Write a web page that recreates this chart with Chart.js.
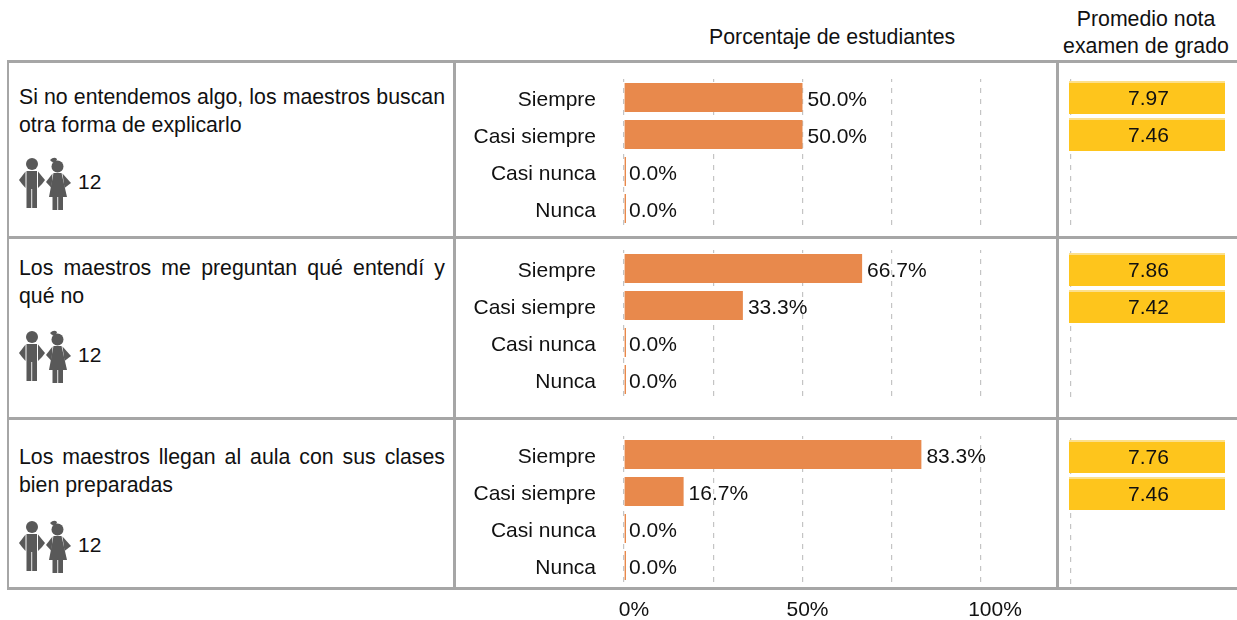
<!DOCTYPE html>
<html>
<head>
<meta charset="utf-8">
<script src="https://cdn.jsdelivr.net/npm/chart.js@4"></script>
<style>
  html, body { margin: 0; padding: 0; background: #fff; }
  body { position: relative; width: 1237px; height: 620px; overflow: hidden; font-family: "Liberation Sans", Arial, sans-serif; color: #111; }
  .abs { position: absolute; }
  .rule { position: absolute; background: #a6a6a6; }
  .head { position: absolute; font-size: 21.3px; line-height: 27px; text-align: center; white-space: nowrap; }
  .question { position: absolute; left: 19px; width: 426px; font-size: 21.3px; line-height: 27.5px; text-align: justify; }
  .count { position: absolute; left: 78px; font-size: 21px; line-height: 24px; }
  canvas { position: absolute; }
</style>
</head>
<body>

<svg width="0" height="0" style="position:absolute">
  <symbol id="kids" viewBox="0 0 54 54">
    <g fill="#595959">
      <circle cx="13" cy="7" r="6"/>
      <path d="M7.5 14 H18 V32 H7.5 Z"/>
      <path d="M6.5 14.5 L0 23 L3 27 L6.5 31 Z"/>
      <path d="M19 14.5 L26 23 L23 27 L19 31 Z"/>
      <rect x="7.5" y="32" width="4.8" height="19"/>
      <rect x="13.2" y="32" width="4.8" height="19"/>
      <circle cx="38.5" cy="9.5" r="6"/>
      <path d="M31 3 Q35 -1 38 2 L37 5 Q33 6 31 3 Z"/>
      <path d="M34.5 16 H42.5 L48 40 H30 Z"/>
      <path d="M33.5 16.5 L27 25 L32.5 31 Z"/>
      <path d="M43.5 16.5 L52 26 L45.5 31 Z"/>
      <rect x="33.5" y="40" width="4.8" height="13"/>
      <rect x="39.2" y="40" width="4.8" height="13"/>
    </g>
  </symbol>
</svg>

<div class="head" style="left:709px;top:24px;">Porcentaje de estudiantes</div>
<div class="head" style="left:1056px;width:180px;top:6px;">Promedio nota<br>examen de grado</div>

<div class="rule" style="left:7px;top:60px;width:1230px;height:3px;"></div>
<div class="rule" style="left:7px;top:236px;width:1230px;height:3px;"></div>
<div class="rule" style="left:7px;top:417px;width:1230px;height:3px;"></div>
<div class="rule" style="left:7px;top:587px;width:1230px;height:3px;"></div>
<div class="rule" style="left:7px;top:60px;width:2px;height:530px;"></div>
<div class="rule" style="left:453px;top:60px;width:3px;height:530px;"></div>
<div class="rule" style="left:1056px;top:60px;width:3px;height:530px;"></div>

<div id="rows"></div>

<script>
const categories = ["Siempre", "Casi siempre", "Casi nunca", "Nunca"];
const questions = [
  "Si no entendemos algo, los maestros buscan otra forma de explicarlo",
  "Los maestros me preguntan qué entendí y qué no",
  "Los maestros llegan al aula con sus clases bien preparadas"
];
const studentCounts = [12, 12, 12];

const pctPanel1 = [50.0, 50.0, 0.0, 0.0];
const pctPanel2 = [66.7, 33.3, 0.0, 0.0];
const pctPanel3 = [83.3, 16.7, 0.0, 0.0];

const scorePanel1 = [7.97, 7.46, null, null];
const scorePanel2 = [7.86, 7.42, null, null];
const scorePanel3 = [7.76, 7.46, null, null];

const axisLabels = ["0%", "50%", "100%"];
const axisValues = [0, 50, 100];

const ORANGE = "#E8894C";
const YELLOW = "#FEC51C";
const GRID = "#c4c4c4";
const FONT = "Liberation Sans";

// y position of each row block on the page
const layout = [
  { barTop: 79,  scoreTop: 79,  qTop: 84,  kidTop: 157, countTop: 170 },
  { barTop: 250, scoreTop: 251, qTop: 255, kidTop: 330, countTop: 343 },
  { barTop: 436, scoreTop: 438, qTop: 444, kidTop: 520, countTop: 533 }
];
const ROW_H = 148;

Chart.defaults.font.family = FONT;
Chart.defaults.animation = false;

function addCanvas(left, top, width, height) {
  const c = document.createElement("canvas");
  c.style.left = left + "px";
  c.style.top = top + "px";
  c.style.width = width + "px";
  c.style.height = height + "px";
  c.width = width;
  c.height = height;
  document.body.appendChild(c);
  return c;
}

// percentage text right after the end of each bar
const barValueLabels = {
  id: "barValueLabels",
  afterDatasetsDraw(chart) {
    const ctx = chart.ctx;
    const meta = chart.getDatasetMeta(0);
    const values = chart.data.datasets[0].data;
    ctx.save();
    ctx.font = "21px " + FONT;
    ctx.fillStyle = "#111";
    ctx.textAlign = "left";
    ctx.textBaseline = "middle";
    meta.data.forEach((bar, i) => {
      ctx.fillText(values[i].toFixed(1) + "%", chart.scales.x.getPixelForValue(values[i]) + 5, bar.y + 3);
    });
    ctx.restore();
  }
};

// bottom axis text, only on the last panel. shifted by hand like in the original
const labelShift = [10, 5, 14];
const bottomAxis = {
  id: "bottomAxis",
  afterDraw(chart) {
    const ctx = chart.ctx;
    ctx.save();
    ctx.font = "21px " + FONT;
    ctx.fillStyle = "#111";
    ctx.textAlign = "center";
    ctx.textBaseline = "middle";
    axisLabels.forEach((txt, i) => {
      ctx.fillText(txt, chart.scales.x.getPixelForValue(axisValues[i]) + labelShift[i], chart.chartArea.bottom + 26);
    });
    ctx.restore();
  }
};

const scoreValueLabels = {
  id: "scoreValueLabels",
  afterDatasetsDraw(chart) {
    const ctx = chart.ctx;
    const meta = chart.getDatasetMeta(0);
    const values = chart.data.datasets[0].data;
    const mid = (chart.chartArea.left + chart.chartArea.right) / 2 + 1.5;
    ctx.save();
    ctx.font = "21px " + FONT;
    ctx.fillStyle = "#111";
    ctx.textAlign = "center";
    ctx.textBaseline = "middle";
    meta.data.forEach((bar, i) => {
      if (values[i] !== null) ctx.fillText(values[i].toFixed(2), mid, bar.y + 2);
    });
    ctx.restore();
  }
};

function pctChart(values, top, isLast) {
  const extra = isLast ? 36 : 0;
  return new Chart(addCanvas(460, top, 581, ROW_H + extra), {
    type: "bar",
    data: {
      labels: categories,
      datasets: [{
        data: values,
        backgroundColor: ORANGE,
        categoryPercentage: 1,
        barPercentage: 0.79,
        minBarLength: 2 // half of it gets clipped, leaves the 1px line of the zero bars
      }]
    },
    options: {
      indexAxis: "y",
      responsive: false,
      layout: { padding: { top: 0, left: 0, right: 60, bottom: extra } },
      plugins: { legend: { display: false }, tooltip: { enabled: false } },
      scales: {
        x: {
          min: 0,
          max: 100,
          afterBuildTicks: (axis) => { axis.ticks = [0, 25, 50, 75, 100].map((v) => ({ value: v })); },
          ticks: { display: false },
          border: { display: false, dash: [5, 6], dashOffset: 2 },
          grid: { color: GRID, lineWidth: 1.2, drawTicks: false },
          afterFit: (axis) => { axis.height = 0; }
        },
        y: {
          // tick padding would otherwise eat the top and bottom of the plot
          afterFit: (axis) => { axis.width = 164; axis.paddingTop = 0; axis.paddingBottom = 0; },
          border: { display: false },
          grid: { display: false },
          ticks: { color: "#111", padding: 20, labelOffset: 3, font: { size: 21 } }
        }
      }
    },
    plugins: isLast ? [barValueLabels, bottomAxis] : [barValueLabels]
  });
}

function scoreChart(values, top) {
  return new Chart(addCanvas(1064, top, 166, ROW_H), {
    type: "bar",
    data: {
      labels: categories,
      datasets: [{
        data: values,
        backgroundColor: YELLOW,
        borderColor: "#FCE08C",
        borderWidth: { top: 2, left: 0, right: 0, bottom: 0 },
        borderSkipped: false,
        categoryPercentage: 1,
        barPercentage: 0.89
      }]
    },
    options: {
      indexAxis: "y",
      responsive: false,
      layout: { padding: { left: 5, right: 5 } },
      plugins: { legend: { display: false }, tooltip: { enabled: false } },
      scales: {
        // every score is above 7, so the bars fill the column like in the original
        x: {
          min: 0,
          max: 7,
          afterBuildTicks: (axis) => { axis.ticks = [{ value: 0.08 }]; },
          ticks: { display: false },
          border: { display: false, dash: [5, 6], dashOffset: 2 },
          grid: { color: GRID, lineWidth: 1.2, drawTicks: false },
          afterFit: (axis) => { axis.height = 0; }
        },
        y: { display: false }
      }
    },
    plugins: [scoreValueLabels]
  });
}

// left column, html text + icon
const rows = document.getElementById("rows");
questions.forEach((q, i) => {
  const l = layout[i];
  const d = document.createElement("div");
  d.className = "question";
  d.style.top = l.qTop + "px";
  d.textContent = q;
  rows.appendChild(d);

  const n = document.createElement("div");
  n.className = "count";
  n.style.top = l.countTop + "px";
  n.textContent = studentCounts[i];
  rows.appendChild(n);

  rows.insertAdjacentHTML("beforeend",
    '<svg class="abs" style="left:19px;top:' + l.kidTop + 'px" width="54" height="54"><use href="#kids"/></svg>');
});

pctChart(pctPanel1, layout[0].barTop, false);
pctChart(pctPanel2, layout[1].barTop, false);
pctChart(pctPanel3, layout[2].barTop, true);
scoreChart(scorePanel1, layout[0].scoreTop);
scoreChart(scorePanel2, layout[1].scoreTop);
scoreChart(scorePanel3, layout[2].scoreTop);
</script>
</body>
</html>
